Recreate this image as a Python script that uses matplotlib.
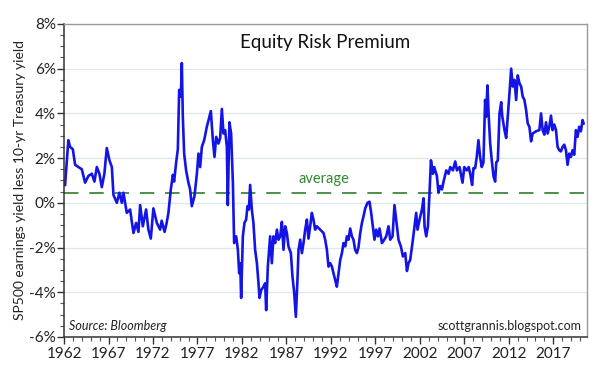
import numpy as np
import matplotlib
matplotlib.use("Agg")
import matplotlib.pyplot as plt
from matplotlib.ticker import MultipleLocator, FuncFormatter

# Equity risk premium (SP500 earnings yield less 10-yr Treasury yield), %
years = [
    1962.11, 1962.48, 1962.67, 1962.98, 1963.24, 1963.61, 1963.99, 1964.36, 1964.73, 1965.12,
    1965.41, 1965.68, 1965.97, 1966.24, 1966.53, 1966.80, 1967.10, 1967.37, 1967.55, 1967.93,
    1968.22, 1968.49, 1968.67, 1969.05, 1969.42, 1969.80, 1970.10, 1970.36, 1970.55, 1970.85,
    1971.22, 1971.48, 1971.75, 1972.04, 1972.43, 1972.80, 1972.97, 1973.30, 1973.53, 1973.73,
    1974.00, 1974.23, 1974.37, 1974.60, 1974.79, 1974.94, 1975.13, 1975.24, 1975.35, 1975.50,
    1975.72, 1975.98, 1976.17, 1976.36, 1976.66, 1976.93, 1977.11, 1977.30, 1977.49, 1977.75,
    1978.05, 1978.50, 1978.73, 1978.91, 1979.10, 1979.36, 1979.55, 1979.74, 1979.92, 1980.11,
    1980.30, 1980.41, 1980.59, 1980.78, 1980.98, 1981.12, 1981.35, 1981.54, 1981.69, 1981.80,
    1981.91, 1982.10, 1982.28, 1982.47, 1982.62, 1982.78, 1982.92, 1983.11, 1983.29, 1983.48,
    1983.68, 1983.86, 1983.97, 1984.16, 1984.42, 1984.61, 1984.72, 1984.91, 1985.17, 1985.36,
    1985.54, 1985.73, 1985.93, 1986.11, 1986.30, 1986.49, 1986.67, 1986.86, 1987.05, 1987.23,
    1987.50, 1987.68, 1987.87, 1988.06, 1988.24, 1988.36, 1988.55, 1988.74, 1988.92, 1989.11,
    1989.30, 1989.48, 1989.67, 1989.86, 1990.04, 1990.23, 1990.42, 1990.80, 1991.17, 1991.36,
    1991.55, 1991.73, 1991.92, 1992.11, 1992.29, 1992.48, 1992.67, 1992.86, 1993.05, 1993.24,
    1993.42, 1993.61, 1993.80, 1993.98, 1994.17, 1994.36, 1994.54, 1994.73, 1994.92, 1995.10,
    1995.30, 1995.49, 1995.67, 1995.86, 1996.12, 1996.34, 1996.53, 1996.72, 1996.90, 1997.09,
    1997.29, 1997.47, 1997.74, 1998.00, 1998.22, 1998.48, 1998.67, 1998.93, 1999.15, 1999.42,
    1999.60, 1999.87, 2000.10, 2000.36, 2000.55, 2000.73, 2000.92, 2001.22, 2001.40, 2001.59,
    2001.74, 2001.97, 2002.24, 2002.42, 2002.53, 2002.72, 2002.91, 2003.09, 2003.25, 2003.47,
    2003.62, 2003.92, 2004.10, 2004.29, 2004.49, 2004.67, 2004.97, 2005.23, 2005.42, 2005.72,
    2005.98, 2006.17, 2006.47, 2006.80, 2007.00, 2007.28, 2007.50, 2007.69, 2007.88, 2008.03,
    2008.22, 2008.40, 2008.59, 2008.78, 2008.96, 2009.15, 2009.34, 2009.46, 2009.60, 2009.75,
    2009.91, 2010.09, 2010.28, 2010.47, 2010.59, 2010.77, 2010.96, 2011.15, 2011.26, 2011.52,
    2011.71, 2011.89, 2012.08, 2012.27, 2012.45, 2012.64, 2012.83, 2013.01, 2013.20, 2013.39,
    2013.57, 2013.76, 2013.95, 2014.13, 2014.32, 2014.51, 2014.69, 2015.07, 2015.44, 2015.63,
    2015.81, 2016.00, 2016.19, 2016.37, 2016.56, 2016.75, 2016.93, 2017.12, 2017.31, 2017.49,
    2017.68, 2017.87, 2018.05, 2018.24, 2018.43, 2018.61, 2018.80, 2018.99, 2019.17, 2019.36,
    2019.55, 2019.74, 2019.92, 2020.11, 2020.30, 2020.41,
]
erp = [
    0.80, 2.80, 2.50, 2.40, 1.70, 1.60, 1.50, 0.90, 1.20, 1.30,
    0.95, 1.60, 1.30, 0.70, 1.30, 2.45, 1.90, 1.60, 0.35, 0.00,
    0.45, 0.00, 0.45, -0.45, -0.30, -1.35, -0.90, -1.30, -0.10, -1.05,
    -0.30, -1.20, -1.60, -0.25, -0.90, -1.20, -0.80, -1.30, -0.90, -0.45,
    0.60, 1.25, 0.95, 1.80, 2.40, 5.05, 4.75, 6.25, 3.85, 2.20,
    1.45, 0.90, 0.60, -0.15, 0.30, 1.30, 2.20, 1.60, 2.50, 2.80,
    3.40, 4.10, 2.80, 2.05, 2.95, 2.65, 2.90, 4.20, 3.10, 3.25,
    2.50, -0.10, 3.60, 3.10, 0.90, -1.80, -1.50, -2.10, -3.15, -2.70,
    -4.25, -1.50, -0.90, -0.75, -0.15, -0.30, 0.80, -0.30, -0.90, -2.10,
    -2.70, -3.60, -4.25, -3.90, -3.75, -3.60, -4.80, -2.85, -1.50, -2.70,
    -1.50, -1.80, -1.20, -1.65, -1.50, -0.85, -2.10, -1.05, -1.35, -1.95,
    -2.25, -3.30, -4.00, -5.10, -3.45, -2.10, -1.65, -2.25, -1.80, -1.20,
    -0.75, -1.60, -1.05, -0.45, -0.75, -1.20, -1.05, -1.20, -1.35, -1.65,
    -2.10, -2.85, -2.70, -2.85, -3.15, -3.45, -3.75, -3.15, -2.55, -2.25,
    -1.80, -1.95, -1.50, -1.65, -1.15, -1.50, -1.65, -2.10, -2.25, -2.00,
    -1.35, -0.90, -0.60, -0.25, 0.00, 0.05, -0.45, -1.05, -1.65, -1.20,
    -1.50, -1.15, -1.80, -1.65, -1.50, -1.05, -1.65, -1.50, -0.10, -1.05,
    -1.65, -1.95, -2.40, -2.25, -3.05, -2.70, -2.55, -1.65, -1.05, -0.45,
    -1.20, -0.75, -0.30, 0.20, -1.05, -1.50, -1.05, 0.45, 1.90, 1.30,
    1.60, 1.20, 0.45, 0.75, 0.60, 0.95, 1.45, 1.30, 1.60, 1.45,
    1.85, 1.45, 1.60, 0.90, 1.60, 1.45, 1.60, 1.25, 0.80, 1.55,
    1.55, 2.05, 2.80, 2.05, 1.60, 1.80, 4.60, 3.85, 5.25, 3.85,
    2.65, 1.90, 1.20, 0.95, 1.80, 1.90, 4.00, 4.50, 3.90, 3.25,
    2.90, 3.85, 4.90, 6.00, 5.20, 5.50, 4.60, 5.70, 5.35, 5.20,
    4.75, 4.60, 4.15, 3.55, 3.40, 2.75, 3.10, 3.20, 3.25, 4.00,
    3.25, 3.05, 3.60, 3.10, 3.40, 3.90, 3.25, 3.50, 3.25, 2.50,
    2.35, 2.30, 2.50, 2.60, 2.35, 1.70, 2.20, 2.05, 2.35, 2.15,
    3.25, 2.95, 3.40, 3.20, 3.70, 3.55,
]
average = 0.45
xticks = [1962, 1967, 1972, 1977, 1982, 1987, 1992, 1997, 2002, 2007, 2012, 2017]

plt.rcParams["font.family"] = ["Lato", "DejaVu Sans"]

fig = plt.figure(figsize=(5.99, 3.74), dpi=100)
ax = fig.add_axes([0.107, 0.099, 0.873, 0.837])

# faint horizontal grid
for g in [-4, -2, 0, 2, 4, 6]:
    ax.axhline(g, color="#dbe9ee", lw=0.9, zorder=0)

ax.axhline(average, color="#3a8a3a", lw=1.3, dashes=(8, 6), zorder=1)
ax.plot(years, erp, color="#1414e6", lw=1.9, zorder=2)

ax.set_xlim(1962, 2020.8)
ax.set_ylim(-6, 8)
ax.set_xticks(xticks)
ax.xaxis.set_minor_locator(MultipleLocator(1))
ax.yaxis.set_major_locator(MultipleLocator(2))
ax.yaxis.set_minor_locator(MultipleLocator(0.5))
ax.yaxis.set_major_formatter(FuncFormatter(lambda v, p: f"{v:.0f}%"))

ax.tick_params(axis="both", which="major", length=5, width=1, color="#333333",
               labelsize=11, labelcolor="#222222", direction="out")
ax.tick_params(axis="both", which="minor", length=3, width=0.8, color="#555555",
               direction="out")
ax.tick_params(axis="x", pad=2)
ax.tick_params(axis="y", pad=1)

for s in ["left", "bottom"]:
    ax.spines[s].set_color("#333333")
    ax.spines[s].set_linewidth(1.1)
for s in ["top", "right"]:
    ax.spines[s].set_color("#999999")
    ax.spines[s].set_linewidth(1.0)

ax.set_ylabel("SP500 earnings yield less 10-yr Treasury yield", fontsize=10,
              color="#222222", labelpad=2)

ax.text(0.5, 0.94, "Equity Risk Premium", transform=ax.transAxes, ha="center",
        va="center", fontsize=13.5, color="#111111")
ax.text(1991.2, 1.05, "average", ha="center", va="center", fontsize=10.5,
        color="#2f8a2f")
ax.text(0.01, 0.035, "Source: Bloomberg", transform=ax.transAxes, ha="left",
        va="center", fontsize=9, style="italic", color="#222222")
ax.text(0.99, 0.035, "scottgrannis.blogspot.com", transform=ax.transAxes,
        ha="right", va="center", fontsize=9, color="#222222")

fig.savefig("out.png", dpi=100)
